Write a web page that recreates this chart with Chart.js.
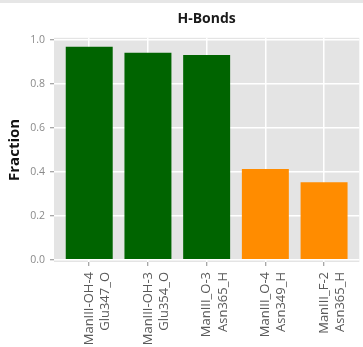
<!DOCTYPE html>
<html><head><meta charset="utf-8">
<script src="https://cdn.jsdelivr.net/npm/chart.js@4/dist/chart.umd.min.js"></script>
<style>
html,body{margin:0;padding:0;background:#fff;overflow:hidden}
#wrap{position:relative;width:363px;height:347px}
#strip{position:absolute;left:0;top:0;width:363px;height:3px;background:#e6e6e6}
canvas{display:block}
</style></head><body>
<div id="wrap"><canvas id="c" width="363" height="347"></canvas><div id="strip"></div></div>
<script>
const categories = [["ManIII-OH-4","Glu347_O"],["ManIII-OH-3","Glu354_O"],["ManIII_O-3","Asn365_H"],["ManIII_O-4","Asn349_H"],["ManIII_F-2","Asn365_H"]];
const fractions = [0.970, 0.943, 0.933, 0.413, 0.353];
const yTicks = [0.0, 0.2, 0.4, 0.6, 0.8, 1.0];
const barColors = ['#006400','#006400','#006400','#ff8c00','#ff8c00'];

const panelBg = {
  id: 'panelBg',
  beforeDraw(chart) {
    const {ctx, chartArea: a} = chart;
    ctx.save();
    ctx.fillStyle = '#e4e4e4';
    ctx.fillRect(a.left, a.top, a.right - a.left, a.bottom - a.top);
    ctx.restore();
  }
};

new Chart(document.getElementById('c'), {
  type: 'bar',
  data: {
    datasets: [{
      data: fractions.map((v, i) => ({x: i, y: v})),
      backgroundColor: barColors,
      borderWidth: 0,
      barPercentage: 0.8,
      categoryPercentage: 1.0
    }]
  },
  options: {
    responsive: false,
    animation: false,
    devicePixelRatio: 1,
    layout: {padding: 0},
    plugins: {
      legend: {display: false},
      tooltip: {enabled: false},
      title: {
        display: true,
        text: 'H-Bonds',
        fullSize: false,
        color: '#1a1a1a',
        font: {family: 'Open Sans', size: 14, weight: 'bold'},
        padding: {top: 11, bottom: 10}
      }
    },
    scales: {
      x: {
        type: 'linear',
        offset: false,
        min: -0.6,
        max: 4.6,
        afterBuildTicks: s => { s.ticks = categories.map((c, i) => ({value: i})); },
        afterFit: s => { s.height = 85; },
        border: {display: false},
        grid: {offset: false, color: '#ffffff', lineWidth: 1.5, tickColor: '#8a8a8a', tickLength: 4, tickWidth: 1},
        ticks: {
          minRotation: 90, maxRotation: 90, autoSkip: false,
          padding: 6,
          color: '#5a5a5a',
          font: {family: 'Open Sans', size: 13, lineHeight: 1.25},
          callback: v => categories[v]
        }
      },
      y: {
        min: -0.01,
        max: 1.011,
        afterBuildTicks: s => { s.ticks = yTicks.map(v => ({value: v})); },
        afterFit: s => { s.width = 54; },
        border: {display: false},
        grid: {color: '#ffffff', lineWidth: 1.5, tickColor: '#8a8a8a', tickLength: 4, tickWidth: 1},
        title: {
          display: true,
          text: 'Fraction',
          color: '#111',
          font: {family: 'Open Sans', size: 15, weight: 'bold'},
          padding: {top: 6, bottom: 0}
        },
        ticks: {
          padding: 5,
          color: '#8a8a8a',
          font: {family: 'Open Sans', size: 10.5},
          callback: v => v.toFixed(1)
        }
      }
    }
  },
  plugins: [panelBg]
});
</script>
</body></html>
